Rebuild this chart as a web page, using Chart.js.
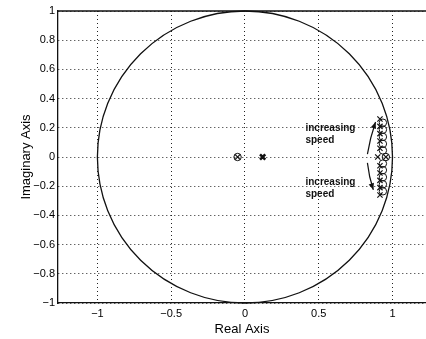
<!DOCTYPE html>
<html>
<head>
<meta charset="utf-8">
<script src="https://cdn.jsdelivr.net/npm/chart.js@4/dist/chart.umd.min.js"></script>
<style>
  html, body { margin: 0; padding: 0; background: #fff; }
  canvas { display: block; }
</style>
</head>
<body>
<canvas id="pzChart" width="426" height="339"></canvas>
<script>
// axis ticks
const realTicks = [-1, -0.5, 0, 0.5, 1];
const imagTicks = [-1, -0.8, -0.6, -0.4, -0.2, 0, 0.2, 0.4, 0.6, 0.8, 1];

// closed-loop zeros (o)
const zeroRe = [-0.05, 0.955, 0.935, 0.935, 0.935, 0.935, 0.935, 0.935, 0.935, 0.935, 0.935, 0.935];
const zeroIm = [0, 0, 0.235, 0.187, 0.138, 0.09, 0.045, -0.045, -0.09, -0.138, -0.187, -0.235];

// closed-loop poles (x)
const poleRe = [-0.05, 0.9, 0.955, 0.915, 0.915, 0.915, 0.915, 0.915, 0.915, 0.915, 0.915, 0.915, 0.915];
const poleIm = [0, 0, 0, 0.26, 0.21, 0.16, 0.11, 0.06, -0.06, -0.11, -0.16, -0.21, -0.26];

// bold pole
const boldPoleRe = [0.12];
const boldPoleIm = [0];

const unitRadius = 1;

// annotation: arrows and text (data units)
const arrowFrom = [[0.83, 0.02], [0.83, -0.04]];
const arrowTo = [[0.885, 0.24], [0.87, -0.225]];
const noteLines = ["increasing", "speed"];
const noteAt = [[0.41, 0.2], [0.41, -0.17]];

function toPoints(xs, ys) {
  return xs.map((x, i) => ({ x: x, y: ys[i] }));
}

function fmtTick(v) {
  return String(v).replace("-", "\u2212");
}

const pzPlugin = {
  id: "pzExtras",
  beforeDatasetsDraw(chart) {
    const { ctx, scales } = chart;
    const cx = scales.x.getPixelForValue(0);
    const cy = scales.y.getPixelForValue(0);
    const rx = scales.x.getPixelForValue(unitRadius) - cx;
    const ry = cy - scales.y.getPixelForValue(unitRadius);
    ctx.save();
    ctx.strokeStyle = "#111";
    ctx.lineWidth = 1.3;
    ctx.beginPath();
    ctx.ellipse(cx, cy, rx, ry, 0, 0, Math.PI * 2);
    ctx.stroke();
    ctx.restore();
  },
  afterDatasetsDraw(chart) {
    const { ctx, scales } = chart;
    ctx.save();
    ctx.strokeStyle = "#111";
    ctx.fillStyle = "#111";
    ctx.lineWidth = 1.2;
    arrowFrom.forEach((a, i) => {
      const x1 = scales.x.getPixelForValue(a[0]);
      const y1 = scales.y.getPixelForValue(a[1]);
      const x2 = scales.x.getPixelForValue(arrowTo[i][0]);
      const y2 = scales.y.getPixelForValue(arrowTo[i][1]);
      const mx = (x1 + x2) / 2 - 1.5;
      const my = (y1 + y2) / 2;
      ctx.beginPath();
      ctx.moveTo(x1, y1);
      ctx.quadraticCurveTo(mx, my, x2, y2);
      ctx.stroke();
      const ang = Math.atan2(y2 - my, x2 - mx);
      ctx.beginPath();
      ctx.moveTo(x2, y2);
      ctx.lineTo(x2 - 7 * Math.cos(ang - 0.4), y2 - 7 * Math.sin(ang - 0.4));
      ctx.lineTo(x2 - 7 * Math.cos(ang + 0.4), y2 - 7 * Math.sin(ang + 0.4));
      ctx.closePath();
      ctx.fill();
    });
    ctx.font = "bold 10px 'Liberation Sans', Arial, sans-serif";
    ctx.textAlign = "left";
    ctx.textBaseline = "middle";
    noteAt.forEach(p => {
      const x = scales.x.getPixelForValue(p[0]);
      const y = scales.y.getPixelForValue(p[1]);
      noteLines.forEach((t, j) => ctx.fillText(t, x, y + j * 12));
    });
    ctx.restore();
  },
  afterDraw(chart) {
    const { ctx, chartArea } = chart;
    ctx.save();
    ctx.strokeStyle = "#111";
    ctx.lineWidth = 1.3;
    ctx.beginPath();
    ctx.moveTo(chartArea.left, chartArea.top);
    ctx.lineTo(chartArea.right, chartArea.top);
    ctx.stroke();
    ctx.restore();
  }
};

const tickFont = { family: "'Liberation Sans', Arial, sans-serif", size: 11 };
const titleFont = { family: "'Liberation Sans', Arial, sans-serif", size: 13 };

new Chart(document.getElementById("pzChart"), {
  type: "scatter",
  data: {
    datasets: [
      {
        label: "zeros",
        data: toPoints(zeroRe, zeroIm),
        pointStyle: "circle",
        pointRadius: 3.7,
        borderWidth: 1,
        borderColor: "#111",
        backgroundColor: "rgba(0,0,0,0)"
      },
      {
        label: "poles",
        data: toPoints(poleRe, poleIm),
        pointStyle: "crossRot",
        pointRadius: 3.7,
        borderWidth: 1.2,
        borderColor: "#111"
      },
      {
        label: "pole",
        data: toPoints(boldPoleRe, boldPoleIm),
        pointStyle: "crossRot",
        pointRadius: 3.7,
        borderWidth: 2.6,
        borderColor: "#111"
      }
    ]
  },
  options: {
    responsive: false,
    animation: false,
    devicePixelRatio: 1,
    layout: { autoPadding: false, padding: { top: 11, right: 0, bottom: 0, left: 0 } },
    plugins: {
      legend: { display: false },
      tooltip: { enabled: false }
    },
    scales: {
      x: {
        type: "linear",
        min: -1.267,
        max: 1.227,
        afterBuildTicks: s => { s.ticks = realTicks.map(v => ({ value: v })); },
        afterFit: s => { s.height = 36; s.paddingLeft = 0; s.paddingRight = 0; },
        ticks: { color: "#000", font: tickFont, padding: 4, callback: fmtTick },
        grid: { color: "#222", lineWidth: 1, drawTicks: false },
        border: { color: "#111", width: 1.3, dash: [1, 3] },
        title: { display: true, text: "Real Axis", color: "#000", font: titleFont, padding: { top: 2, bottom: 2 } }
      },
      y: {
        type: "linear",
        min: -1,
        max: 1,
        afterBuildTicks: s => { s.ticks = imagTicks.map(v => ({ value: v })); },
        afterFit: s => { s.width = 58; },
        ticks: { color: "#000", font: tickFont, padding: 3, callback: fmtTick },
        grid: { color: "#222", lineWidth: 1, drawTicks: false },
        border: { color: "#111", width: 1.3, dash: [1, 3] },
        title: { display: true, text: "Imaginary Axis", color: "#000", font: titleFont, padding: { top: 19, bottom: 19 } }
      }
    }
  },
  plugins: [pzPlugin]
});
</script>
</body>
</html>
